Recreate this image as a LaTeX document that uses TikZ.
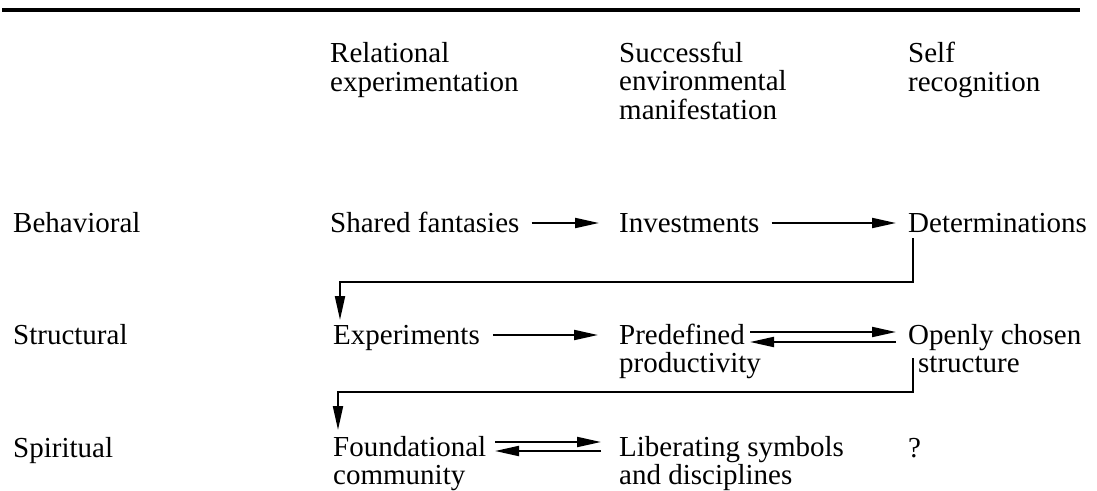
\documentclass[tikz,border=0pt]{standalone}
\usepackage{fontspec}
\setmainfont{Liberation Serif}
\usetikzlibrary{arrows.meta}
\begin{document}
\begin{tikzpicture}[x=1pt,y=-1pt,
  txt/.style={font=\fontsize{29}{28.5}\selectfont, inner sep=0pt, anchor=base west, align=left},
  arr/.style={line width=2pt, -{Triangle[length=24pt,width=10pt]}},
  rule/.style={line width=4pt}]
\useasboundingbox (0,0) rectangle (1097,490);
\coordinate (ruleL) at (2,10);
\coordinate (ruleR) at (1080,10);
\draw[rule] (ruleL) -- (ruleR);
% column headers (positions are baselines of the last line)
\node[txt] (h1) at (330,91) {Relational\\experimentation};
\node[txt] (h2) at (619,119) {Successful\\environmental\\manifestation};
\node[txt] (h3) at (908,91) {Self\\recognition};
% row labels
\node[txt] (r1) at (13,232) {Behavioral};
\node[txt] (r2) at (13,344) {Structural};
\node[txt] (r3) at (13,457) {Spiritual};
% cells
\node[txt] (sf)  at (330,232) {Shared fantasies};
\node[txt] (inv) at (619,232) {Investments};
\node[txt] (det) at (908,232) {Determinations};
\node[txt] (exp) at (333,344) {Experiments};
\node[txt] (pre) at (619,372.5) {Predefined\\productivity};
\node[txt] (ocs) at (908,372.5) {Openly chosen\\\hspace*{10pt}structure};
\node[txt] (fnd) at (333,484.5) {Foundational\\community};
\node[txt] (lib) at (619,484.5) {Liberating symbols\\and disciplines};
\node[txt] (q)   at (908,457) {?};
% row 1 arrows
\draw[arr] ([xshift=12pt,yshift=9pt]sf.base east) -- ([xshift=-20pt,yshift=9pt]inv.base west);
\draw[arr] ([xshift=12pt,yshift=9pt]inv.base east) -- ([xshift=-12pt,yshift=9pt]det.base west);
% determinations down to experiments
\draw[arr] ([xshift=5pt,yshift=-6pt]det.base west) -- ++(0,44) -| ([xshift=7pt,yshift=24pt]exp.base west);
% row 2 arrows
\draw[arr] ([xshift=13pt,yshift=9pt]exp.base east) -- ([xshift=-21pt,yshift=37.5pt]pre.base west);
\draw[arr] ([xshift=131pt,yshift=40.5pt]pre.base west) -- ([xshift=-12pt,yshift=40.5pt]ocs.base west);
\draw[arr] ([xshift=-12pt,yshift=30.5pt]ocs.base west) -- ([xshift=131pt,yshift=30.5pt]pre.base west);
% openly chosen structure down to foundational
\draw[arr] ([xshift=5pt,yshift=14.5pt]ocs.base west) -- ++(0,34) -| ([xshift=5pt,yshift=54.5pt]fnd.base west);
% row 3 arrows
\draw[arr] ([xshift=162pt,yshift=42.5pt]fnd.base west) -- ([xshift=-18pt,yshift=42.5pt]lib.base west);
\draw[arr] ([xshift=-18pt,yshift=33.5pt]lib.base west) -- ([xshift=162pt,yshift=33.5pt]fnd.base west);
\end{tikzpicture}
\end{document}
